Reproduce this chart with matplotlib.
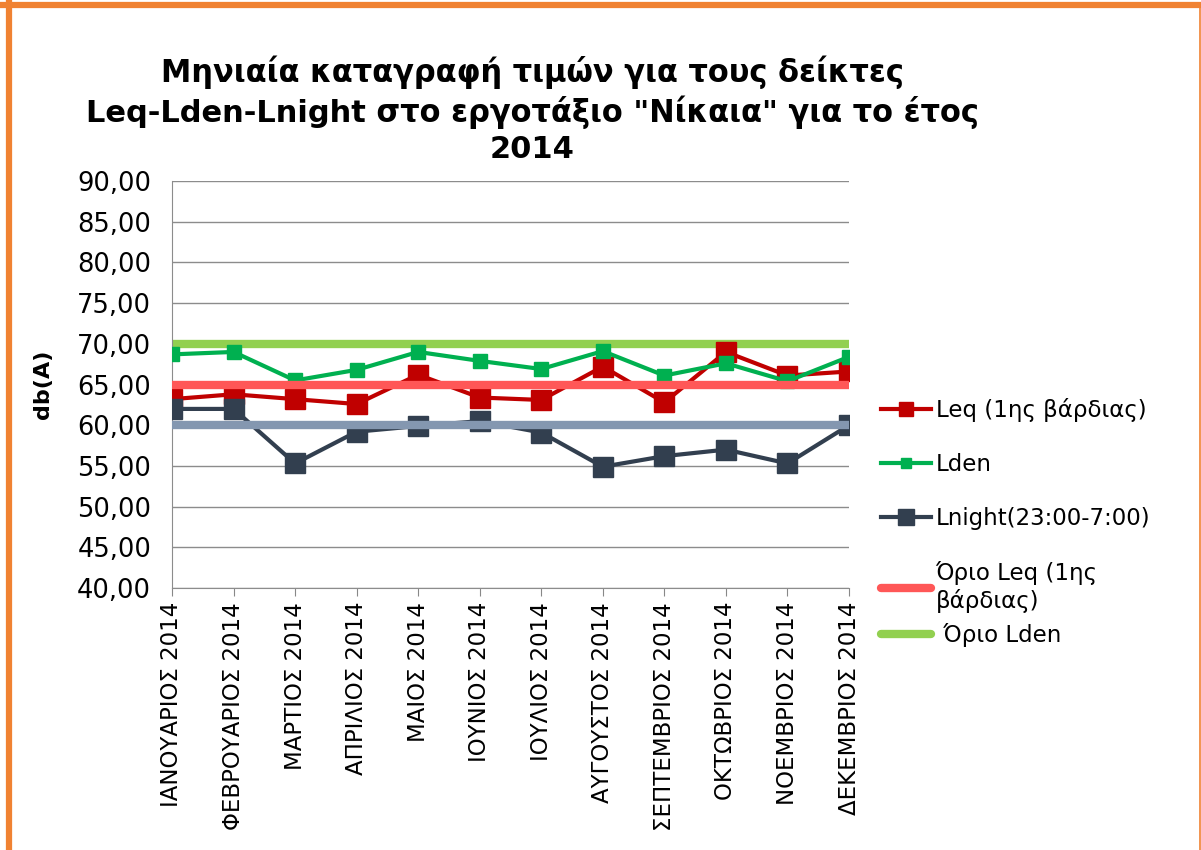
import numpy as np
import matplotlib.pyplot as plt
from matplotlib.lines import Line2D

months = ['ΙΑΝΟΥΑΡΙΟΣ 2014', 'ΦΕΒΡΟΥΑΡΙΟΣ 2014', 'ΜΑΡΤΙΟΣ 2014', 'ΑΠΡΙΛΙΟΣ 2014',
          'ΜΑΙΟΣ 2014', 'ΙΟΥΝΙΟΣ 2014', 'ΙΟΥΛΙΟΣ 2014', 'ΑΥΓΟΥΣΤΟΣ 2014',
          'ΣΕΠΤΕΜΒΡΙΟΣ 2014', 'ΟΚΤΩΒΡΙΟΣ 2014', 'ΝΟΕΜΒΡΙΟΣ 2014', 'ΔΕΚΕΜΒΡΙΟΣ 2014']
leq = [63.2, 63.8, 63.2, 62.6, 66.2, 63.4, 63.1, 67.2, 62.8, 69.0, 66.1, 66.6]
lden = [68.7, 69.0, 65.5, 66.8, 69.0, 67.9, 66.9, 69.1, 66.1, 67.6, 65.4, 68.4]
lnight = [62.0, 62.0, 55.3, 59.2, 59.9, 60.5, 59.1, 54.9, 56.2, 57.0, 55.3, 60.0]
limit_leq = [65.0] * 12
limit_lden = [70.0] * 12
limit_lnight = [60.0] * 12

title = 'Μηνιαία καταγραφή τιμών για τους δείκτες\nLeq-Lden-Lnight στο εργοτάξιο "Νίκαια" για το έτος\n2014'

W, H = 1201, 850
fig = plt.figure(figsize=(W / 100, H / 100), dpi=100)
ax = fig.add_axes([172 / W, 1 - 588 / H, (849 - 172) / W, (588 - 181) / H])

x = np.arange(len(months))
l_lden_lim, = ax.plot(x, limit_lden, color='#92D050', lw=6, solid_capstyle='round', zorder=2)
l_leq, = ax.plot(x, leq, color='#C00000', lw=3, marker='s', ms=14, zorder=3)
l_lden, = ax.plot(x, lden, color='#00B050', lw=3, marker='s', ms=10, zorder=4)
l_leq_lim, = ax.plot(x, limit_leq, color='#FF5757', lw=6, solid_capstyle='round', zorder=5)
l_night, = ax.plot(x, lnight, color='#323F4F', lw=3, marker='s', ms=15, zorder=3)
ax.plot(x, limit_lnight, color='#8497B0', lw=6, solid_capstyle='round', zorder=5)

ax.set_xlim(0, 11)
ax.set_ylim(40, 90)
yt = np.arange(40, 91, 5)
ax.set_yticks(yt)
ax.set_yticklabels([f'{v:.2f}'.replace('.', ',') for v in yt], fontsize=18.5)
ax.set_xticks(x)
ax.set_xticklabels(months, rotation=90, fontsize=16.5)
ax.tick_params(axis='y', length=0, pad=15)
ax.tick_params(axis='x', length=6, color='#888888', pad=4)
ax.grid(axis='y', color='#8C8C8C', lw=1)
ax.set_axisbelow(True)
for s in ['top', 'right']:
    ax.spines[s].set_visible(False)
for s in ['left', 'bottom']:
    ax.spines[s].set_color('#8C8C8C')
ax.set_ylabel('db(A)', fontsize=16, fontweight='bold', labelpad=17)

fig.text(0.443, 1 - 110 / H, title, ha='center', va='center', fontsize=22,
         fontweight='bold', linespacing=1.25)

leg_kw = dict(frameon=False, fontsize=16.5, handlelength=2.2, handletextpad=0.2,
              markerscale=0.75, borderaxespad=0.0)
leg1 = ax.legend([l_leq, l_lden, l_night, l_leq_lim],
                 ['Leq (1ης βάρδιας)', 'Lden', 'Lnight(23:00-7:00)', 'Όριο Leq (1ης\nβάρδιας)'],
                 loc='upper left', bbox_to_anchor=(1.033, 1 - (389 - 181) / 407),
                 labelspacing=1.35, **leg_kw)
ax.add_artist(leg1)
ax.legend([l_lden_lim], [' Όριο Lden'], loc='upper left',
          bbox_to_anchor=(1.033, 1 - (614 - 181) / 407), **leg_kw)

# orange frame around the chart area
oc = '#F08232'
fig.add_artist(Line2D([0, 1], [1 - 5 / H, 1 - 5 / H], transform=fig.transFigure, color=oc, lw=4.5))
fig.add_artist(Line2D([9 / W, 9 / W], [0, 1 - 3 / H], transform=fig.transFigure, color=oc, lw=4.5))
fig.add_artist(Line2D([1199.5 / W, 1199.5 / W], [0, 1 - 3 / H], transform=fig.transFigure, color=oc, lw=1.2))

fig.savefig('out.png', dpi=100)
